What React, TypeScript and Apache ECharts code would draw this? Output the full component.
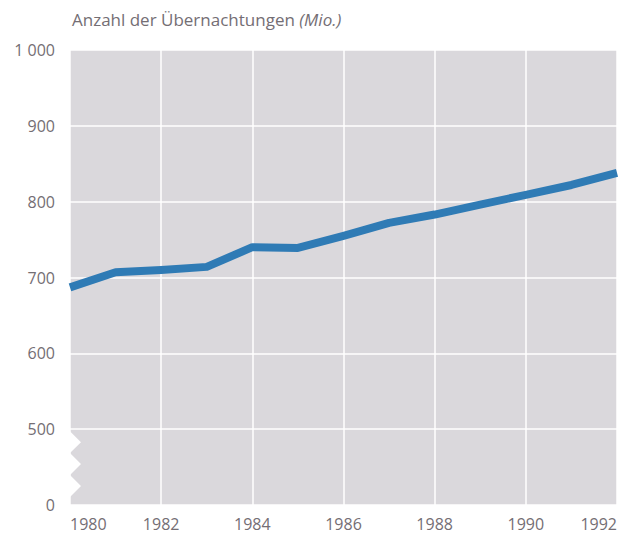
import React, { useEffect, useRef } from "react";
import * as echarts from "echarts";

const years = [1980, 1981, 1982, 1983, 1984, 1985, 1986, 1987, 1988, 1989, 1990, 1991, 1992];
const nights = [687, 707, 710, 714, 740, 739, 755, 772, 783, 796, 809, 822, 838];
const yTicks = [400, 500, 600, 700, 800, 900, 1000];
const yTickLabels = ["0", "500", "600", "700", "800", "900", "1 000"];
const titleMain = "Anzahl der Übernachtungen ";
const titleUnit = "(Mio.)";

export default function App() {
  const ref = useRef<HTMLDivElement>(null);
  useEffect(() => {
    if (!ref.current) return;
    const chart = echarts.init(ref.current, null, { renderer: "svg" });
    const font = "'Open Sans', 'Noto Sans', sans-serif";
    const labelColor = "#746e74";
    const titleGraphic = {
      type: "text",
      left: 72,
      top: 11,
      style: {
        text: "{a|" + titleMain + "}{b|" + titleUnit + "}",
        rich: {
          a: { fontFamily: font, fontSize: 17, fill: labelColor },
          b: { fontFamily: font, fontSize: 17, fontStyle: "italic", fill: labelColor },
        },
      },
    };
    chart.setOption({
      animation: false,
      backgroundColor: "#ffffff",
      grid: {
        left: 70,
        right: 0,
        top: 50,
        bottom: 31,
        show: true,
        backgroundColor: "#dad8dc",
        borderWidth: 0,
      },
      xAxis: {
        type: "value",
        min: 1980,
        max: 1992,
        interval: 2,
        axisLine: { show: false },
        axisTick: { show: false },
        splitLine: { show: true, lineStyle: { color: "#ffffff", width: 1.5 } },
        axisLabel: {
          color: labelColor,
          fontFamily: font,
          fontSize: 16,
          margin: 11,
          alignMinLabel: "left",
          alignMaxLabel: "right",
          formatter: (v: number) => String(v),
        },
      },
      yAxis: {
        type: "value",
        min: 400,
        max: 1000,
        interval: 100,
        axisLine: { show: false },
        axisTick: { show: false },
        splitLine: { show: true, lineStyle: { color: "#ffffff", width: 1.5 } },
        axisLabel: {
          color: labelColor,
          fontFamily: font,
          fontSize: 16,
          margin: 15,
          formatter: (v: number) => {
            const i = yTicks.indexOf(v);
            return i >= 0 ? yTickLabels[i] : "";
          },
        },
      },
      series: [
        {
          type: "line",
          data: years.map((y, i) => [y, nights[i]]),
          symbol: "none",
          lineStyle: { color: "#2f7bb5", width: 8, join: "round" },
          clip: false,
        },
      ],
      graphic: [titleGraphic],
    });
    const p500 = chart.convertToPixel({ gridIndex: 0 }, [1980, 500]) as number[];
    const p400 = chart.convertToPixel({ gridIndex: 0 }, [1980, 400]) as number[];
    const x0 = p500[0];
    const yTop = p500[1] + 2;
    const yBot = p400[1] - 8;
    const h = yBot - yTop;
    const pts: number[][] = [[x0 - 4, yTop], [x0, yTop]];
    const teeth = 3;
    for (let k = 0; k < teeth; k++) {
      pts.push([x0 + 11, yTop + (h * (2 * k + 1)) / (2 * teeth)]);
      pts.push([x0, yTop + (h * (2 * k + 2)) / (2 * teeth)]);
    }
    pts.push([x0 - 4, yBot]);
    chart.setOption({
      graphic: [
        titleGraphic,
        {
          type: "polygon",
          shape: { points: pts },
          style: { fill: "#ffffff" },
          z: 10,
        },
      ],
    });
    return () => chart.dispose();
  }, []);
  return (
    <div
      ref={ref}
      style={{ position: "fixed", left: 0, top: 0, width: 620, height: 536 }}
    />
  );
}
